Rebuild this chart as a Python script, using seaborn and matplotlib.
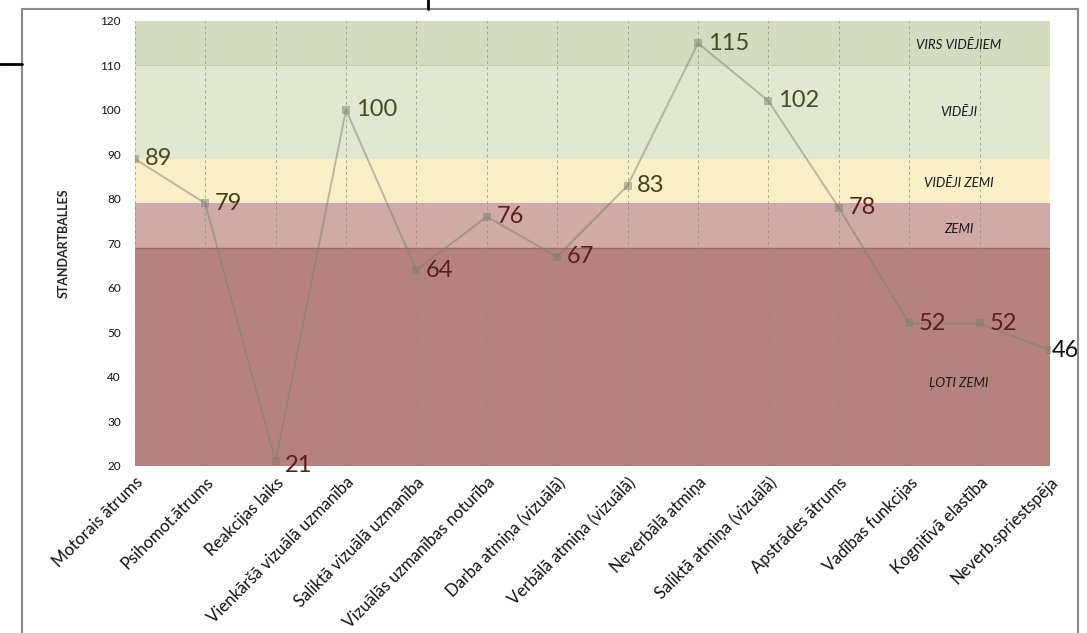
import matplotlib
matplotlib.use("Agg")
import matplotlib.pyplot as plt
import seaborn as sns
import pandas as pd
from matplotlib.lines import Line2D
from matplotlib.patches import Rectangle

categories = ["Motorais ātrums", "Psihomot.ātrums", "Reakcijas laiks",
              "Vienkāršā vizuālā uzmanība", "Saliktā vizuālā uzmanība",
              "Vizuālās uzmanības noturība", "Darba atmiņa (vizuālā)",
              "Verbālā atmiņa (vizuālā)", "Neverbālā atmiņa",
              "Saliktā atmiņa (vizuālā)", "Apstrādes ātrums",
              "Vadības funkcijas", "Kognitīvā elastība", "Neverb.spriestspēja"]
scores = [89, 79, 21, 100, 64, 76, 67, 83, 115, 102, 78, 52, 52, 46]

zone_names = ["ĻOTI ZEMI", "ZEMI", "VIDĒJI ZEMI", "VIDĒJI", "VIRS VIDĒJIEM"]
zone_low = [20, 69, 79, 89, 110]
zone_high = [69, 79, 89, 110, 120]
zone_colors = ["#b5837f", "#d0a9a9", "#fbefc8", "#e2e8d0", "#d3dcbf"]
zone_label_y = [38.6, 73.3, 83.6, 99.5, 114.6]
label_colors = ["#5a1e1e", "#5a1e1e", "#4a3d1a", "#474a22", "#474a22"]

sns.set_style("white")
plt.rcParams['font.family'] = ['Lato', 'DejaVu Sans']

fig = plt.figure(figsize=(10.87, 6.33), dpi=100)
ax = fig.add_axes([0.124, 0.264, 0.842, 0.703])

for lo, hi, c in zip(zone_low, zone_high, zone_colors):
    ax.axhspan(lo, hi, color=c, zorder=0, lw=0)
ax.axhline(69, color="#9e6a66", lw=1, zorder=1)
ax.axhline(110, color="#c5cfb0", lw=0.8, zorder=1)

df = pd.DataFrame({"cat": list(range(len(categories))), "score": scores})
for i in range(len(categories)):
    ax.axvline(i, color="#8a8a8a", lw=0.7, ls=(0, (3, 3)), alpha=0.7, zorder=1)

sns.lineplot(data=df, x="cat", y="score", ax=ax, color="#7f7f70", alpha=0.5,
             marker="s", markersize=6, markeredgewidth=0, lw=1.4, zorder=3)

def zone_color(v):
    for lo, hi, c in zip(zone_low, zone_high, label_colors):
        if lo <= v < hi:
            return c
    return label_colors[-1]

for i, v in enumerate(scores):
    col = "#111111" if i == len(scores) - 1 else zone_color(v)
    dy = -3 if v == 21 else 0
    dx = 7 if i < len(scores) - 1 else 1
    ax.annotate(str(v), (i, v), xytext=(dx, dy), textcoords="offset points",
                va="center", ha="left", fontsize=17, color=col,
                annotation_clip=False, zorder=5)

for name, y in zip(zone_names, zone_label_y):
    ax.text(11.7, y, name, ha="center", va="center", fontsize=9.5,
            style="italic", color="#1a1a1a", zorder=4)

ax.set_xlim(0, 13)
ax.set_ylim(20, 120)
ax.set_yticks(range(20, 121, 10))
ax.set_xticks(range(len(categories)))
ax.set_xticklabels(categories, rotation=45, ha="right", rotation_mode="anchor",
                   fontsize=12, color="#111111")
ax.tick_params(axis="y", labelsize=8.5, colors="#111111", length=0, pad=10)
ax.tick_params(axis="x", length=0, pad=6)
ax.set_xlabel("")
ax.set_ylabel("STANDARTBALLES", fontsize=9, fontweight="bold", labelpad=22)
for s in ax.spines.values():
    s.set_visible(False)

# outer frame and stray screenshot lines
fig.patches.append(Rectangle((22/1087, -0.05), (1078-22)/1087, 1.05 - 9/633,
                             transform=fig.transFigure, fill=False,
                             edgecolor="#8a8a8a", lw=1.5))
fig.lines.append(Line2D([0, 22/1087], [1-64/633, 1-64/633], transform=fig.transFigure,
                        color="black", lw=2))
fig.lines.append(Line2D([428/1087, 428/1087], [1, 1-9/633], transform=fig.transFigure,
                        color="black", lw=2))

fig.savefig("out.png", dpi=100)
